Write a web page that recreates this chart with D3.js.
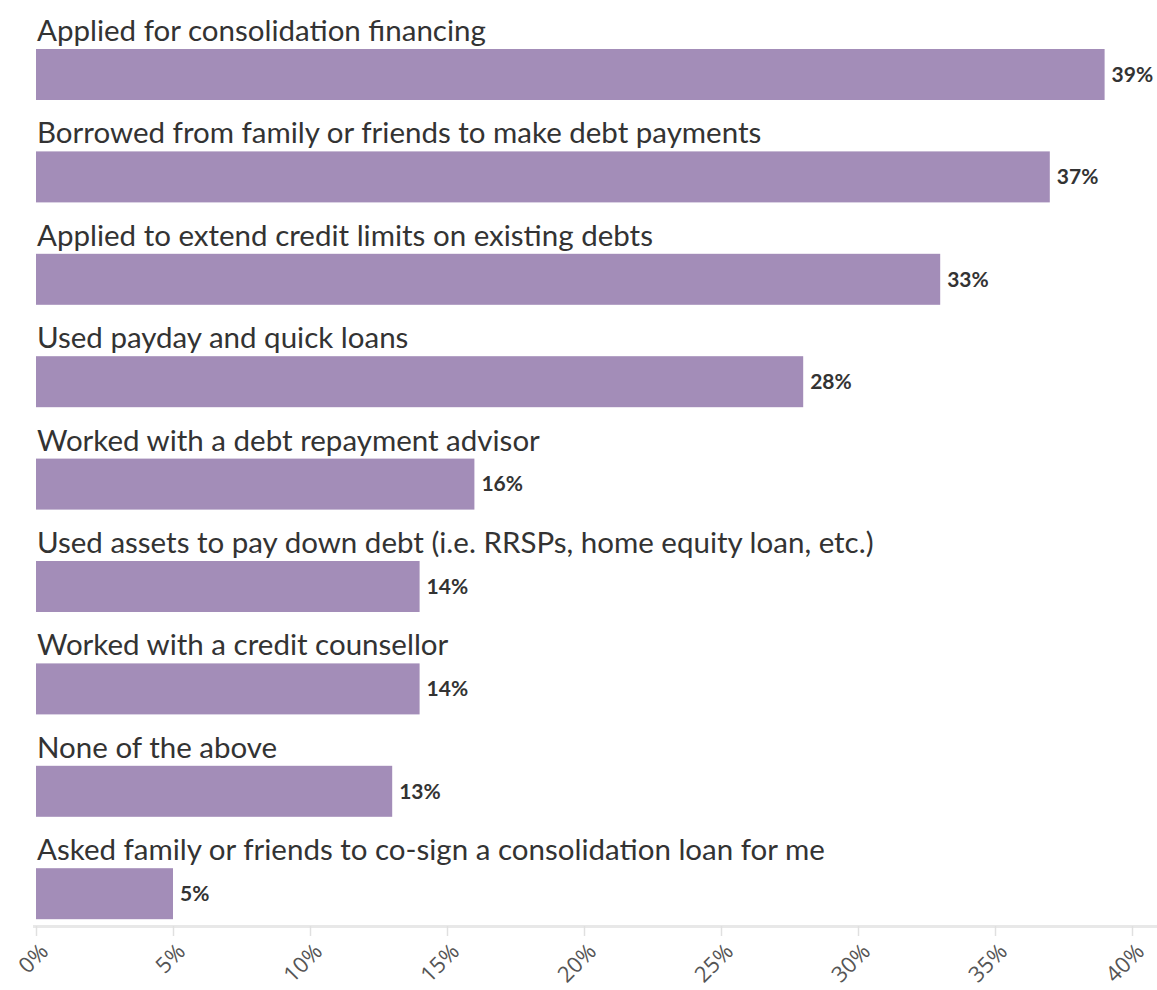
<!DOCTYPE html>
<html>
<head>
<meta charset="utf-8">
<script src="https://cdn.jsdelivr.net/npm/d3@7"></script>
<style>
  html, body { margin: 0; padding: 0; background: #ffffff; }
  svg { display: block; }
</style>
</head>
<body>
<div id="chart"></div>
<script>
// Debt-relief actions taken, share of respondents (%)
const categories = [
  "Applied for consolidation financing",
  "Borrowed from family or friends to make debt payments",
  "Applied to extend credit limits on existing debts",
  "Used payday and quick loans",
  "Worked with a debt repayment advisor",
  "Used assets to pay down debt (i.e. RRSPs, home equity loan, etc.)",
  "Worked with a credit counsellor",
  "None of the above",
  "Asked family or friends to co-sign a consolidation loan for me"
];
const values = [39, 37, 33, 28, 16, 14, 14, 13, 5];
const tickValues = [0, 5, 10, 15, 20, 25, 30, 35, 40];

const width = 1157, height = 990;
const margin = { top: 49, right: 25, bottom: 64, left: 36 };

const svg = d3.select("#chart").append("svg")
  .attr("width", width)
  .attr("height", height);

const x = d3.scaleLinear()
  .domain([0, 40])
  .range([margin.left, 1132]);

// Each band holds a label above its bar
const band = d3.scaleBand()
  .domain(categories)
  .range([margin.top, 919 + 51.6])
  .paddingInner(0)
  .paddingOuter(0);

const barH = 51;

const rows = svg.append("g").selectAll("g")
  .data(categories.map((c, i) => ({ label: c, value: values[i] })))
  .join("g")
  .attr("transform", d => `translate(0,${band(d.label)})`);

rows.append("rect")
  .attr("x", x(0))
  .attr("y", 0)
  .attr("width", d => x(d.value) - x(0))
  .attr("height", barH)
  .attr("fill", "#a38db8");

rows.append("text")
  .attr("x", x(0) + 1)
  .attr("y", -8)
  .attr("font-family", "Lato, 'Open Sans', sans-serif")
  .attr("font-size", 29.5)
  .attr("fill", "#333333")
  .text(d => d.label);

rows.append("text")
  .attr("x", d => x(d.value) + 7)
  .attr("y", barH / 2)
  .attr("dy", "0.35em")
  .attr("font-family", "Lato, 'Open Sans', sans-serif")
  .attr("font-weight", "bold")
  .attr("font-size", 21)
  .attr("fill", "#333333")
  .text(d => d.value + "%");

// Bottom axis
const axisY = 926;
const axis = svg.append("g")
  .attr("transform", `translate(0,${axisY})`)
  .call(d3.axisBottom(x)
    .tickValues(tickValues)
    .tickFormat(d => d + "%")
    .tickSize(10)
    .tickSizeOuter(0));

axis.select(".domain")
  .attr("stroke", "#e8e8e8")
  .attr("stroke-width", 3)
  .attr("d", `M${margin.left - 3},0.5H${width}`);
axis.selectAll(".tick line")
  .attr("stroke", "#e0e0e0")
  .attr("stroke-width", 1.5);
axis.selectAll(".tick text")
  .attr("font-family", "'Open Sans', sans-serif")
  .attr("font-size", 22)
  .attr("fill", "#555555")
  .attr("text-anchor", "end")
  .attr("dy", "0")
  .attr("y", 0)
  .attr("transform", "translate(13,27) rotate(-45)");
</script>
</body>
</html>
